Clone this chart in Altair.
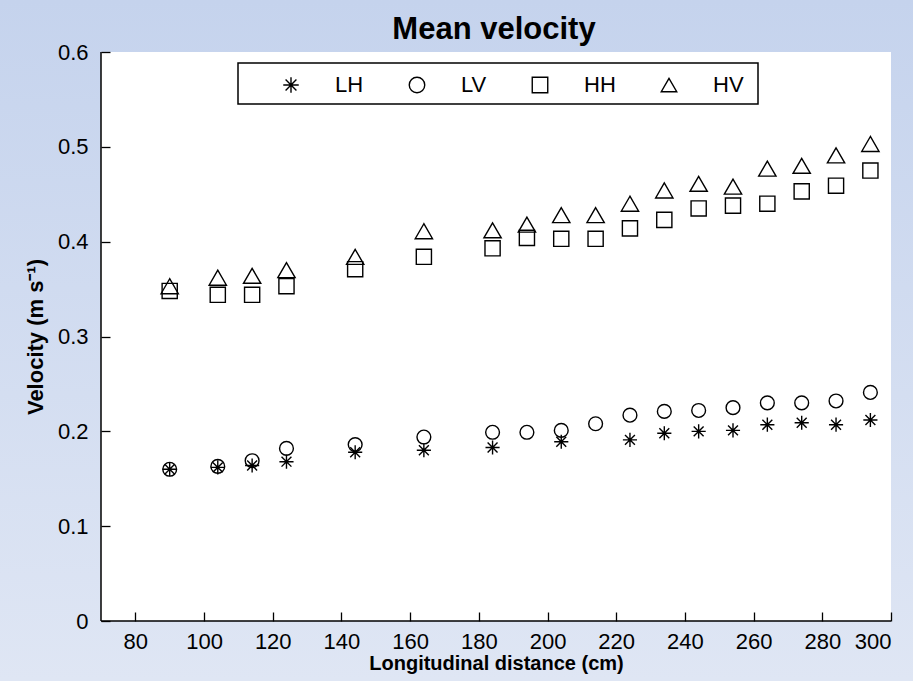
import altair as alt
import pandas as pd

# Longitudinal stations (cm)
distance_all = [90, 104, 114, 124, 144, 164, 184, 194, 204, 214, 224, 234, 244, 254, 264, 274, 284, 294]
distance_lh = [90, 104, 114, 124, 144, 164, 184, 204, 224, 234, 244, 254, 264, 274, 284, 294]

# Mean velocity (m/s) for each configuration
vel_lh = [0.160, 0.162, 0.164, 0.168, 0.178, 0.180, 0.183, 0.189, 0.191, 0.198, 0.200, 0.201, 0.207, 0.209, 0.207, 0.212]
vel_lv = [0.160, 0.163, 0.169, 0.182, 0.186, 0.194, 0.199, 0.199, 0.201, 0.208, 0.217, 0.221, 0.222, 0.225, 0.230, 0.230, 0.232, 0.241]
vel_hh = [0.348, 0.344, 0.344, 0.353, 0.371, 0.384, 0.393, 0.404, 0.403, 0.403, 0.414, 0.423, 0.435, 0.438, 0.440, 0.453, 0.459, 0.475]
vel_hv = [0.353, 0.362, 0.364, 0.370, 0.384, 0.411, 0.412, 0.418, 0.428, 0.428, 0.440, 0.454, 0.461, 0.458, 0.477, 0.480, 0.491, 0.503]

series_names = ["LH", "LV", "HH", "HV"]
x_ticks = [80, 100, 120, 140, 160, 180, 200, 220, 240, 260, 280, 300]
y_ticks = [0, 0.1, 0.2, 0.3, 0.4, 0.5, 0.6]

rows = []
for name, xs, ys in [("LH", distance_lh, vel_lh), ("LV", distance_all, vel_lv),
                     ("HH", distance_all, vel_hh), ("HV", distance_all, vel_hv)]:
    rows += [{"distance": x, "velocity": v, "series": name} for x, v in zip(xs, ys)]
df = pd.DataFrame(rows)
one = pd.DataFrame({"k": [0]})

FONT = "Liberation Sans, Arial, sans-serif"
W, H = 790, 569
PAD = {"left": 101, "top": 52, "right": 22, "bottom": 60}

ASTERISK = "M-1,0L1,0M0,-1L0,1M-0.7,-0.7L0.7,0.7M-0.7,0.7L0.7,-0.7"

x_scale = alt.Scale(domain=[70, 300], nice=False, zero=False)
y_scale = alt.Scale(domain=[0, 0.6], nice=False, zero=False)

x_axis = alt.Axis(values=x_ticks, title="Longitudinal distance (cm)", offset=-9, tickSize=9,
                  domain=False, grid=False, labelPadding=10, labelFontSize=22, labelFont=FONT,
                  labelColor="black", tickColor="black", tickWidth=1.3,
                  titleFont=FONT, titleFontSize=20, titleFontWeight="bold", titleColor="black",
                  titlePadding=1, zindex=1)
y_axis = alt.Axis(values=y_ticks, title="Velocity (m s\u207b\u00b9)", offset=-9, tickSize=9,
                  domain=False, grid=False, labelPadding=13, labelFontSize=22, labelFont=FONT,
                  labelColor="black", tickColor="black", tickWidth=1.3, format="~g",
                  titleFont=FONT, titleFontSize=22, titleFontWeight="bold", titleColor="black",
                  titlePadding=10, zindex=1)

# Page backdrop with a soft vertical gradient
backdrop = alt.Chart(one).mark_rect(
    fill=alt.Gradient(gradient="linear", x1=0, x2=0, y1=0, y2=1,
                      stops=[alt.GradientStop(color="#c5d3ed", offset=0),
                             alt.GradientStop(color="#dfe6f4", offset=1)])
).encode(x=alt.value(-PAD["left"]), x2=alt.value(W + PAD["right"]),
         y=alt.value(-PAD["top"]), y2=alt.value(H + PAD["bottom"]))

# Chart title
title = alt.Chart(one).mark_text(
    text="Mean velocity", font=FONT, fontSize=31, fontWeight="bold", color="black",
    align="center", baseline="alphabetic"
).encode(x=alt.value(W / 2 - 2), y=alt.value(-13))

# White plotting panel
panel = alt.Chart(one).mark_rect(fill="white").encode(
    x=alt.X(datum=70, type="quantitative", scale=x_scale, axis=x_axis),
    x2=alt.X2(datum=300),
    y=alt.Y(datum=0, type="quantitative", scale=y_scale, axis=y_axis),
    y2=alt.Y2(datum=0.6),
)

# Left and bottom axis lines
left_line = alt.Chart(one).mark_rule(color="black", strokeWidth=1.5).encode(
    x=alt.X(datum=70, type="quantitative", scale=x_scale, axis=x_axis),
    y=alt.Y(datum=0, type="quantitative", scale=y_scale, axis=y_axis),
    y2=alt.Y2(datum=0.6),
)
bottom_line = alt.Chart(one).mark_rule(color="black", strokeWidth=1.5).encode(
    x=alt.X(datum=70, type="quantitative", scale=x_scale, axis=x_axis),
    x2=alt.X2(datum=300),
    y=alt.Y(datum=0, type="quantitative", scale=y_scale, axis=y_axis),
)

# Legend frame
legend_box = alt.Chart(one).mark_rect(fillOpacity=0, stroke="black", strokeWidth=1.5).encode(
    x=alt.value(137), x2=alt.value(657), y=alt.value(11), y2=alt.value(52)
)

series_legend = alt.Legend(title=None, orient="none", legendX=179, legendY=22,
                           direction="horizontal", columns=4, padding=0, symbolSize=240,
                           symbolStrokeColor="black", symbolFillColor="transparent",
                           symbolStrokeWidth=1.4, labelFont=FONT, labelFontSize=22,
                           labelColor="black", labelOffset=33, columnPadding=42, zindex=1)

# Marker area per symbol type (triangles drawn a little larger, as plotted)
marker_area = ("datum.series === 'HV' ? 300 : datum.series === 'HH' ? 230 : "
               "datum.series === 'LV' ? 190 : 200")

points = alt.Chart(df).transform_calculate(marker=marker_area).mark_point(
    filled=False, color="black", strokeWidth=1.4, opacity=1
).encode(
    x=alt.X("distance:Q", scale=x_scale, axis=x_axis),
    y=alt.Y("velocity:Q", scale=y_scale, axis=y_axis),
    shape=alt.Shape("series:N", sort=series_names,
                    scale=alt.Scale(domain=series_names,
                                    range=[ASTERISK, "circle", "square", "triangle-up"]),
                    legend=series_legend),
    size=alt.Size("marker:Q", scale=None, legend=None),
)

chart = alt.layer(backdrop, title, panel, left_line, bottom_line, legend_box, points).properties(
    width=W, height=H,
    padding=PAD,
    autosize=alt.AutoSizeParams(type="none"),
    background="#d2dcf0",
).configure_view(stroke=None)

chart.save("out.html", embed_options={"renderer": "svg", "actions": False})
